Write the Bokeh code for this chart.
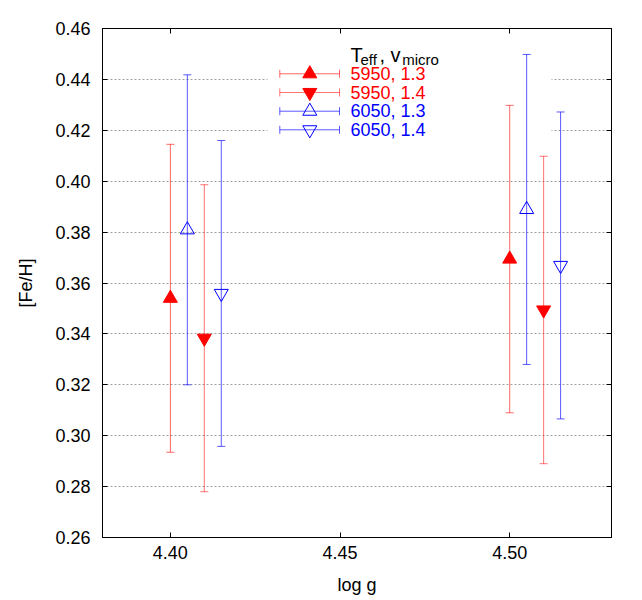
from bokeh.plotting import figure
from bokeh.models import (ColumnDataSource, Whisker, TeeHead, LinearAxis, FixedTicker,
                          NumeralTickFormatter, Range1d)
from bokeh.embed import file_html
from bokeh.resources import INLINE
from bokeh.core.properties import value

# ---------------- data ----------------
logg_5950_13 = [4.40, 4.50]
feh_5950_13 = [0.354, 0.3694]
err_5950_13 = [0.0605, 0.0604]

logg_5950_14 = [4.41, 4.51]
feh_5950_14 = [0.3383, 0.3494]
err_5950_14 = [0.0603, 0.0604]

logg_6050_13 = [4.405, 4.505]
feh_6050_13 = [0.3809, 0.3889]
err_6050_13 = [0.0609, 0.0609]

logg_6050_14 = [4.415, 4.515]
feh_6050_14 = [0.3559, 0.3669]
err_6050_14 = [0.0601, 0.0603]

series_labels = ["5950, 1.3", "5950, 1.4", "6050, 1.3", "6050, 1.4"]
x_ticks = [4.40, 4.45, 4.50]
y_ticks = [0.26, 0.28, 0.30, 0.32, 0.34, 0.36, 0.38, 0.40, 0.42, 0.44, 0.46]
X0, X1 = 4.38, 4.53
Y0, Y1 = 0.26, 0.46

# ---------------- layout ----------------
W, H = 640, 598
BL, BT = 102, 28
FW, FH = 509, 509
BR, BB = W - BL - FW, H - BT - FH
FONT = "Liberation Sans"
RED, BLUE = "#ff0000", "#0000ff"


def fx(dx):
    return X0 + dx / FW * (X1 - X0)


def fy(dy):
    return Y1 - dy / FH * (Y1 - Y0)


p = figure(width=W, height=H, output_backend="svg", toolbar_location=None,
           x_range=Range1d(X0, X1), y_range=Range1d(Y0, Y1),
           min_border_left=BL, min_border_right=BR, min_border_top=BT,
           min_border_bottom=BB, x_axis_label="log g", y_axis_label="[Fe/H]")
p.background_fill_color = "white"
p.border_fill_color = "white"
p.outline_line_color = "black"
p.outline_line_width = 1

p.xgrid.visible = False
p.ygrid.ticker = FixedTicker(ticks=y_ticks)
p.ygrid.grid_line_color = "#a0a0a0"
p.ygrid.grid_line_dash = "2 2"
p.ygrid.grid_line_width = 1

for ax in (p.xaxis[0], p.yaxis[0]):
    ax.major_tick_in = 5
    ax.major_tick_out = 0
    ax.minor_tick_line_color = None
    ax.axis_line_color = "black"
    ax.major_tick_line_color = "black"
    ax.major_label_text_font = FONT
    ax.major_label_text_font_size = "18px"
    ax.major_label_text_color = "black"
    ax.axis_label_text_font = FONT
    ax.axis_label_text_font_size = "18px"
    ax.axis_label_text_font_style = "normal"
    ax.axis_label_text_color = "black"
    ax.formatter = NumeralTickFormatter(format="0.00")

p.xaxis[0].ticker = FixedTicker(ticks=x_ticks)
p.yaxis[0].ticker = FixedTicker(ticks=y_ticks)
p.xaxis[0].major_label_standoff = 8
p.xaxis[0].axis_label_standoff = 13
p.yaxis[0].major_label_standoff = 12
p.yaxis[0].axis_label_standoff = 16

for loc, tk in (("right", y_ticks), ("above", x_ticks)):
    ax = LinearAxis(ticker=FixedTicker(ticks=tk), major_tick_in=5, major_tick_out=0,
                    minor_tick_line_color=None, major_label_text_font_size="1px",
                    major_label_text_color=None, major_label_standoff=0,
                    axis_line_color="black")
    p.add_layout(ax, loc)

# legend background (covers grid lines)
p.quad(left=[fx(165)], right=[fx(449)], top=[fy(12)], bottom=[fy(112)],
       fill_color="white", line_color=None)

series = [
    (logg_5950_13, feh_5950_13, err_5950_13, "triangle", RED, RED, 0.6),
    (logg_5950_14, feh_5950_14, err_5950_14, "inverted_triangle", RED, RED, 0.55),
    (logg_6050_13, feh_6050_13, err_6050_13, "triangle", BLUE, None, 0.65),
    (logg_6050_14, feh_6050_14, err_6050_14, "inverted_triangle", BLUE, None, 0.65),
]

row_dy = [45.3, 64.0, 82.7, 101.3]
for i, (xs, ys, es, marker, col, fill, alpha) in enumerate(series):
    src = ColumnDataSource(dict(x=xs, y=ys,
                                upper=[y + e for y, e in zip(ys, es)],
                                lower=[y - e for y, e in zip(ys, es)]))
    wk = Whisker(source=src, base="x", upper="upper", lower="lower", dimension="height",
                 line_color=col, line_alpha=alpha, line_width=1, level="annotation",
                 upper_head=TeeHead(size=8, line_color=col, line_alpha=alpha, line_width=1),
                 lower_head=TeeHead(size=8, line_color=col, line_alpha=alpha, line_width=1))
    p.add_layout(wk)
    p.scatter(x="x", y="y", source=src, marker=marker, size=14,
              line_color=col, fill_color=fill, line_width=1)

    # legend entry
    ly = fy(row_dy[i])
    lsrc = ColumnDataSource(dict(base=[ly], lower=[fx(177.3)], upper=[fx(237.0)],
                                 mx=[fx(207.3)]))
    lw = Whisker(source=lsrc, base="base", upper="upper", lower="lower", dimension="width",
                 line_color=col, line_alpha=alpha, line_width=1, level="annotation",
                 upper_head=TeeHead(size=8, line_color=col, line_alpha=alpha, line_width=1),
                 lower_head=TeeHead(size=8, line_color=col, line_alpha=alpha, line_width=1))
    p.add_layout(lw)
    p.scatter(x="mx", y="base", source=lsrc, marker=marker, size=14,
              line_color=col, fill_color=fill, line_width=1)
    p.text(x=[fx(248)], y=[ly], text=[series_labels[i]], text_font=value(FONT),
           text_font_size="18px", text_color=col, text_baseline="middle",
           text_align="left")

# legend title with subscripts
p.text(x=[fx(248.0), fx(277.0)], y=[fy(26), fy(26)], text=["T", ", v"],
       text_font=value(FONT), text_font_size="20px", text_color="black",
       text_baseline="alphabetic", text_align="left")
p.text(x=[fx(258.0), fx(299.7)], y=[fy(31), fy(31)], text=["eff", "micro"],
       text_font=value(FONT), text_font_size="15px", text_color="black",
       text_baseline="alphabetic", text_align="left")

open("out.html", "w").write(file_html(p, INLINE))
